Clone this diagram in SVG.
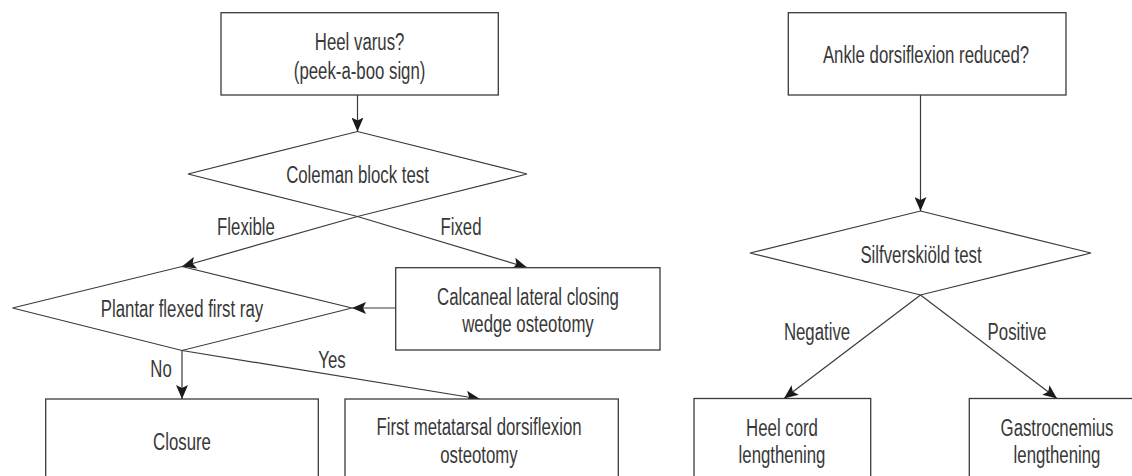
<svg xmlns="http://www.w3.org/2000/svg" width="1132" height="476" viewBox="0 0 1132 476">
<style>
.box{fill:#fff;stroke:#3a3a3a;stroke-width:1.3}
.dia{fill:none;stroke:#3a3a3a;stroke-width:1.2}
.edge{fill:none;stroke:#3a3a3a;stroke-width:1.2;marker-end:url(#ah)}
text{font-family:"Liberation Sans",Arial,sans-serif;font-size:23px;fill:#383838;text-anchor:middle}
</style>
<defs>
<marker id="ah" markerUnits="userSpaceOnUse" markerWidth="16" markerHeight="12" refX="14" refY="6" orient="auto">
<path d="M0,0 L14,6 L0,12 L3,6 z" fill="#1a1a1a"/>
</marker>
</defs>
<rect width="1132" height="476" fill="#fff"/>
<g id="connectors">
<line class="edge" x1="357.5" y1="95" x2="357.5" y2="131.5"/>
<line class="edge" x1="357.5" y1="216.5" x2="182" y2="266.5"/>
<line class="edge" x1="357.5" y1="216.5" x2="527" y2="267.5"/>
<line class="edge" x1="395.7" y1="308" x2="352" y2="308"/>
<line class="edge" x1="182" y1="350.5" x2="182" y2="399"/>
<line class="edge" x1="182" y1="350.5" x2="480" y2="399"/>
<line class="edge" x1="920.5" y1="95" x2="920.5" y2="211"/>
<line class="edge" x1="920.5" y1="295" x2="784" y2="398.5"/>
<line class="edge" x1="920.5" y1="295" x2="1057" y2="398.5"/>
<text transform="translate(246,235) scale(0.73,1)">Flexible</text>
<text transform="translate(461,235) scale(0.73,1)">Fixed</text>
<text transform="translate(161,377) scale(0.73,1)">No</text>
<text transform="translate(332,368) scale(0.73,1)">Yes</text>
<text transform="translate(817,340) scale(0.73,1)">Negative</text>
<text transform="translate(1017,340) scale(0.73,1)">Positive</text>
</g>
<g id="heel-varus">
<rect class="box" x="221" y="12.7" width="277.3" height="82.3"/>
<text transform="translate(359.6,50) scale(0.73,1)">Heel varus?</text>
<text transform="translate(359.6,78.5) scale(0.73,1)">(peek-a-boo sign)</text>
</g>
<g id="coleman">
<polygon class="dia" points="357.5,131.5 527,174 357.5,216.5 188,174"/>
<text transform="translate(357.5,183) scale(0.73,1)">Coleman block test</text>
</g>
<g id="plantar">
<polygon class="dia" points="182,266.5 352,308 182,350.5 12.5,308"/>
<text transform="translate(182,317) scale(0.73,1)">Plantar flexed first ray</text>
</g>
<g id="calcaneal">
<rect class="box" x="395.7" y="267.7" width="264.3" height="82.3"/>
<text transform="translate(528,305) scale(0.73,1)">Calcaneal lateral closing</text>
<text transform="translate(528,332) scale(0.73,1)">wedge osteotomy</text>
</g>
<g id="closure">
<rect class="box" x="45.7" y="399" width="272.6" height="100"/>
<text transform="translate(182,450) scale(0.73,1)">Closure</text>
</g>
<g id="first-metatarsal">
<rect class="box" x="345" y="399" width="273.3" height="100"/>
<text transform="translate(479,435) scale(0.73,1)">First metatarsal dorsiflexion</text>
<text transform="translate(479,463) scale(0.73,1)">osteotomy</text>
</g>
<g id="ankle">
<rect class="box" x="788.3" y="12.7" width="277.7" height="82.3"/>
<text transform="translate(926,63) scale(0.73,1)">Ankle dorsiflexion reduced?</text>
</g>
<g id="silfverskiold">
<polygon class="dia" points="920.5,211 1091,253 920.5,295 750,253"/>
<text transform="translate(921,263) scale(0.73,1)">Silfverskiöld test</text>
</g>
<g id="heel-cord">
<rect class="box" x="694" y="398.5" width="176.7" height="100"/>
<text transform="translate(782,436) scale(0.73,1)">Heel cord</text>
<text transform="translate(782,463) scale(0.73,1)">lengthening</text>
</g>
<g id="gastrocnemius">
<rect class="box" x="969.3" y="398.5" width="200" height="100"/>
<text transform="translate(1057,436) scale(0.73,1)">Gastrocnemius</text>
<text transform="translate(1057,463) scale(0.73,1)">lengthening</text>
</g>
</svg>
